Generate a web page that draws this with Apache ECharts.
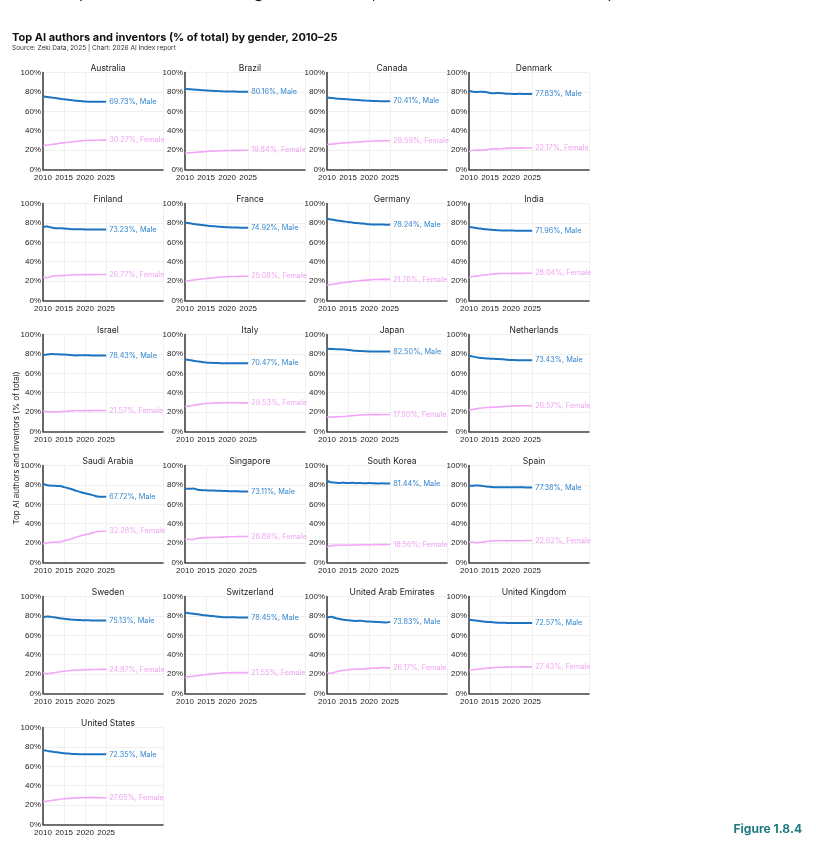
<!DOCTYPE html>
<html>
<head>
<meta charset="utf-8">
<script src="https://cdn.jsdelivr.net/npm/echarts@6/dist/echarts.min.js"></script>
<style>
html,body{margin:0;padding:0;background:#fff;}
#chart{width:816px;height:850px;}
</style>
</head>
<body>
<div id="chart"></div>
<script>
// ---- Data ----
const years = [2010,2011,2012,2013,2014,2015,2016,2017,2018,2019,2020,2021,2022,2023,2024,2025];
const xTickLabels = [2010, 2015, 2020, 2025];
const yTickLabels = ['0%','20%','40%','60%','80%','100%'];

const countries = ['Australia','Brazil','Canada','Denmark','Finland','France','Germany','India','Israel','Italy','Japan','Netherlands','Saudi Arabia','Singapore','South Korea','Spain','Sweden','Switzerland','United Arab Emirates','United Kingdom','United States'];

const australiaMale   = [75.6,74.8,74.3,73.6,72.9,72.4,71.9,71.4,70.9,70.5,70.1,69.9,69.8,69.8,69.75,69.73];
const australiaFemale = [24.4,25.2,25.7,26.4,27.1,27.6,28.1,28.6,29.1,29.5,29.9,30.1,30.2,30.2,30.25,30.27];
const brazilMale      = [83.2,82.8,82.4,82.1,81.8,81.5,81.2,81.0,80.8,80.6,80.45,80.35,80.3,80.25,80.2,80.16];
const brazilFemale    = [16.8,17.2,17.6,17.9,18.2,18.5,18.8,19.0,19.2,19.4,19.55,19.65,19.7,19.75,19.8,19.84];
const canadaMale      = [74.3,73.8,73.3,72.9,72.6,72.3,72.0,71.7,71.4,71.1,70.8,70.6,70.5,70.45,70.4,70.41];
const canadaFemale    = [25.7,26.2,26.7,27.1,27.4,27.7,28.0,28.3,28.6,28.9,29.2,29.4,29.5,29.55,29.6,29.59];
const denmarkMale     = [81.2,80.2,80.0,80.1,79.8,78.9,78.7,78.8,78.5,78.0,78.0,77.9,78.0,77.9,77.8,77.83];
const denmarkFemale   = [18.8,19.8,20.0,19.9,20.2,21.1,21.3,21.2,21.5,22.0,22.0,22.1,22.0,22.1,22.2,22.17];
const finlandMale     = [76.0,76.3,75.2,74.5,74.4,74.3,73.9,73.5,73.4,73.4,73.3,73.3,73.3,73.25,73.2,73.23];
const finlandFemale   = [24.0,23.7,24.8,25.5,25.6,25.7,26.1,26.5,26.6,26.6,26.7,26.7,26.7,26.75,26.8,26.77];
const franceMale      = [80.4,79.6,78.9,78.3,77.8,77.4,76.9,76.5,76.1,75.7,75.5,75.3,75.2,75.1,75.0,74.92];
const franceFemale    = [19.6,20.4,21.1,21.7,22.2,22.6,23.1,23.5,23.9,24.3,24.5,24.7,24.8,24.9,25.0,25.08];
const germanyMale     = [84.2,83.5,82.8,82.1,81.5,80.9,80.4,79.9,79.5,79.1,78.7,78.4,78.3,78.25,78.2,78.24];
const germanyFemale   = [15.8,16.5,17.2,17.9,18.5,19.1,19.6,20.1,20.5,20.9,21.3,21.6,21.7,21.75,21.8,21.76];
const indiaMale       = [76.0,75.3,74.6,74.0,73.4,73.0,72.6,72.3,72.2,72.1,72.1,72.0,72.0,72.0,71.95,71.96];
const indiaFemale     = [24.0,24.7,25.4,26.0,26.6,27.0,27.4,27.7,27.8,27.9,27.9,28.0,28.0,28.0,28.05,28.04];
const israelMale      = [78.9,79.5,79.8,79.7,79.5,79.3,79.0,78.7,78.4,78.6,78.5,78.5,78.4,78.45,78.4,78.43];
const israelFemale    = [21.1,20.5,20.2,20.3,20.5,20.7,21.0,21.3,21.6,21.4,21.5,21.5,21.6,21.55,21.6,21.57];
const italyMale       = [74.2,73.6,73.0,72.3,71.6,71.1,70.8,70.6,70.5,70.4,70.4,70.4,70.4,70.45,70.45,70.47];
const italyFemale     = [25.8,26.4,27.0,27.7,28.4,28.9,29.2,29.4,29.5,29.6,29.6,29.6,29.6,29.55,29.55,29.53];
const japanMale       = [85.2,85.0,84.9,84.8,84.6,84.1,83.6,83.2,82.9,82.7,82.6,82.6,82.6,82.55,82.5,82.50];
const japanFemale     = [14.8,15.0,15.1,15.2,15.4,15.9,16.4,16.8,17.1,17.3,17.4,17.4,17.4,17.45,17.5,17.50];
const netherlandsMale   = [78.0,77.2,76.4,75.8,75.3,75.1,74.9,74.7,74.4,74.0,73.7,73.6,73.5,73.5,73.45,73.43];
const netherlandsFemale = [22.0,22.8,23.6,24.2,24.7,24.9,25.1,25.3,25.6,26.0,26.3,26.4,26.5,26.5,26.55,26.57];
const saudiMale       = [81.0,79.6,79.2,79.0,78.8,77.7,76.5,75.2,73.8,72.5,71.4,70.4,69.2,68.1,67.8,67.72];
const saudiFemale     = [19.0,20.4,20.8,21.0,21.2,22.3,23.5,24.8,26.2,27.5,28.6,29.6,30.8,31.9,32.2,32.28];
const singaporeMale   = [76.0,76.0,76.3,75.0,74.6,74.4,74.3,74.1,73.9,73.8,73.6,73.5,73.4,73.3,73.2,73.11];
const singaporeFemale = [24.0,24.0,23.7,25.0,25.4,25.6,25.7,25.9,26.1,26.2,26.4,26.5,26.6,26.7,26.8,26.89];
const koreaMale       = [84.0,82.6,82.3,82.0,82.2,81.9,82.1,81.8,82.0,81.6,81.9,81.6,81.5,81.6,81.5,81.44];
const koreaFemale     = [16.0,17.4,17.7,18.0,17.8,18.1,17.9,18.2,18.0,18.4,18.1,18.4,18.5,18.4,18.5,18.56];
const spainMale       = [79.0,79.2,79.5,79.2,78.3,78.0,77.7,77.6,77.6,77.7,77.6,77.7,77.5,77.5,77.3,77.38];
const spainFemale     = [21.0,20.8,20.5,20.8,21.7,22.0,22.3,22.4,22.4,22.3,22.4,22.3,22.5,22.5,22.7,22.62];
const swedenMale      = [78.6,79.5,79.0,78.3,77.6,77.0,76.5,76.1,75.9,75.7,75.5,75.4,75.3,75.2,75.15,75.13];
const swedenFemale    = [21.4,20.5,21.0,21.7,22.4,23.0,23.5,23.9,24.1,24.3,24.5,24.6,24.7,24.8,24.85,24.87];
const switzerlandMale   = [83.4,82.8,82.2,81.6,81.0,80.5,80.0,79.6,79.1,78.7,78.6,78.5,78.5,78.45,78.45,78.45];
const switzerlandFemale = [16.6,17.2,17.8,18.4,19.0,19.5,20.0,20.4,20.9,21.3,21.4,21.5,21.5,21.55,21.55,21.55];
const uaeMale         = [78.3,79.2,77.8,76.8,76.0,75.5,75.1,74.8,75.0,74.4,74.1,74.0,73.8,73.4,73.3,73.83];
const uaeFemale       = [21.7,20.8,22.2,23.2,24.0,24.5,24.9,25.2,25.0,25.6,25.9,26.0,26.2,26.6,26.7,26.17];
const ukMale          = [76.0,75.5,75.0,74.5,74.0,73.6,73.3,73.0,72.9,72.8,72.7,72.7,72.6,72.6,72.6,72.57];
const ukFemale        = [24.0,24.5,25.0,25.5,26.0,26.4,26.7,27.0,27.1,27.2,27.3,27.3,27.4,27.4,27.4,27.43];
const usMale          = [76.5,75.9,75.2,74.6,74.0,73.5,73.1,72.8,72.6,72.4,72.35,72.3,72.3,72.3,72.35,72.35];
const usFemale        = [23.5,24.1,24.8,25.4,26.0,26.5,26.9,27.2,27.4,27.6,27.65,27.7,27.7,27.7,27.65,27.65];

const maleSeries = [australiaMale,brazilMale,canadaMale,denmarkMale,finlandMale,franceMale,germanyMale,indiaMale,israelMale,italyMale,japanMale,netherlandsMale,saudiMale,singaporeMale,koreaMale,spainMale,swedenMale,switzerlandMale,uaeMale,ukMale,usMale];
const femaleSeries = [australiaFemale,brazilFemale,canadaFemale,denmarkFemale,finlandFemale,franceFemale,germanyFemale,indiaFemale,israelFemale,italyFemale,japanFemale,netherlandsFemale,saudiFemale,singaporeFemale,koreaFemale,spainFemale,swedenFemale,switzerlandFemale,uaeFemale,ukFemale,usFemale];

// ---- Layout / style ----
const FONT = 'Inter, "Noto Sans", sans-serif';
const TICKFONT = '"Liberation Sans", Arial, sans-serif';
const MALE = '#1c74c0';
const FEMALE = '#f2a6f6';
const MALE_LABEL = '#3487cf';
const FEMALE_LABEL = '#f0a4f2';
const col0 = 43, colStep = 142, row0 = 72.5, rowStep = 131, gw = 120, gh = 97;

const grid = [], xAxis = [], yAxis = [], series = [], title = [];
countries.forEach((name, i) => {
  const r = Math.floor(i / 4), c = i % 4;
  const left = col0 + c * colStep, top = row0 + r * rowStep;
  grid.push({left: left, top: top, width: gw, height: gh, containLabel: false});
  title.push({
    text: name, left: left + gw / 2, top: top - 14, textAlign: 'center',
    textStyle: {fontSize: 8.5, fontWeight: 'normal', color: '#222', fontFamily: FONT}
  });
  xAxis.push({
    gridIndex: i, type: 'value', min: 2010, max: 2038.5, interval: 5,
    axisLine: {show: true, lineStyle: {color: '#444', width: 1.6}},
    axisTick: {show: false},
    axisLabel: {
      fontSize: 8, color: '#222', fontFamily: TICKFONT, margin: 4, showMaxLabel: false,
      formatter: v => xTickLabels.includes(v) ? String(v) : ''
    },
    splitLine: {show: true, lineStyle: {color: ['#f0f0f0','#f0f0f0','#f0f0f0','#f0f0f0','rgba(0,0,0,0)','rgba(0,0,0,0)'], width: 1}}
  });
  yAxis.push({
    gridIndex: i, type: 'value', min: 0, max: 100, interval: 20,
    axisLine: {show: true, lineStyle: {color: '#444', width: 1.6}},
    axisTick: {show: false},
    axisLabel: {fontSize: 8, color: '#222', fontFamily: TICKFONT, margin: 2,
      formatter: v => yTickLabels[Math.round(v / 20)]},
    splitLine: {show: true, lineStyle: {color: '#f0f0f0', width: 1}}
  });
  series.push({
    type: 'line', xAxisIndex: i, yAxisIndex: i, smooth: 0.3, symbol: 'none',
    lineStyle: {color: MALE, width: 2}, itemStyle: {color: MALE},
    data: years.map((y, k) => [y, maleSeries[i][k]]),
    endLabel: {show: true, distance: 3, fontSize: 7.3, color: MALE_LABEL, fontFamily: FONT,
      formatter: p => p.value[1].toFixed(2) + '%, Male'},
    silent: true, animation: false
  });
  series.push({
    type: 'line', xAxisIndex: i, yAxisIndex: i, smooth: 0.3, symbol: 'none',
    lineStyle: {color: FEMALE, width: 1.6}, itemStyle: {color: FEMALE},
    data: years.map((y, k) => [y, femaleSeries[i][k]]),
    endLabel: {show: true, distance: 3, fontSize: 7.3, color: FEMALE_LABEL, fontFamily: FONT,
      formatter: p => p.value[1].toFixed(2) + '%, Female'},
    silent: true, animation: false
  });
});

const chart = echarts.init(document.getElementById('chart'), null, {renderer: 'canvas'});
chart.setOption({
  backgroundColor: '#fff',
  animation: false,
  title: title,
  grid: grid, xAxis: xAxis, yAxis: yAxis, series: series,
  graphic: [
    {type: 'text', left: 12, top: -15, style: {text: 'a similar pattern in AI-related degree attainment, where women remain underrepresented across all levels.', fontSize: 16, fill: '#222', fontFamily: FONT}},
    {type: 'text', left: 12, top: 32, style: {text: 'Top AI authors and inventors (% of total) by gender, 2010–25', fontSize: 11, fontWeight: 'bold', fill: '#111', fontFamily: FONT}},
    {type: 'text', left: 12, top: 45, style: {text: 'Source: Zeki Data, 2025 | Chart: 2026 AI Index report', fontSize: 6.5, fill: '#333', fontFamily: FONT}},
    {type: 'text', x: 17, y: 448, rotation: Math.PI / 2, style: {text: 'Top AI authors and inventors (% of total)', fontSize: 8, fill: '#222', fontFamily: FONT, align: 'center', verticalAlign: 'middle'}},
    {type: 'text', right: 14, top: 823, style: {text: 'Figure 1.8.4', fontSize: 12, fontWeight: 'bold', fill: '#1f7a80', fontFamily: FONT}}
  ]
});
</script>
</body>
</html>
